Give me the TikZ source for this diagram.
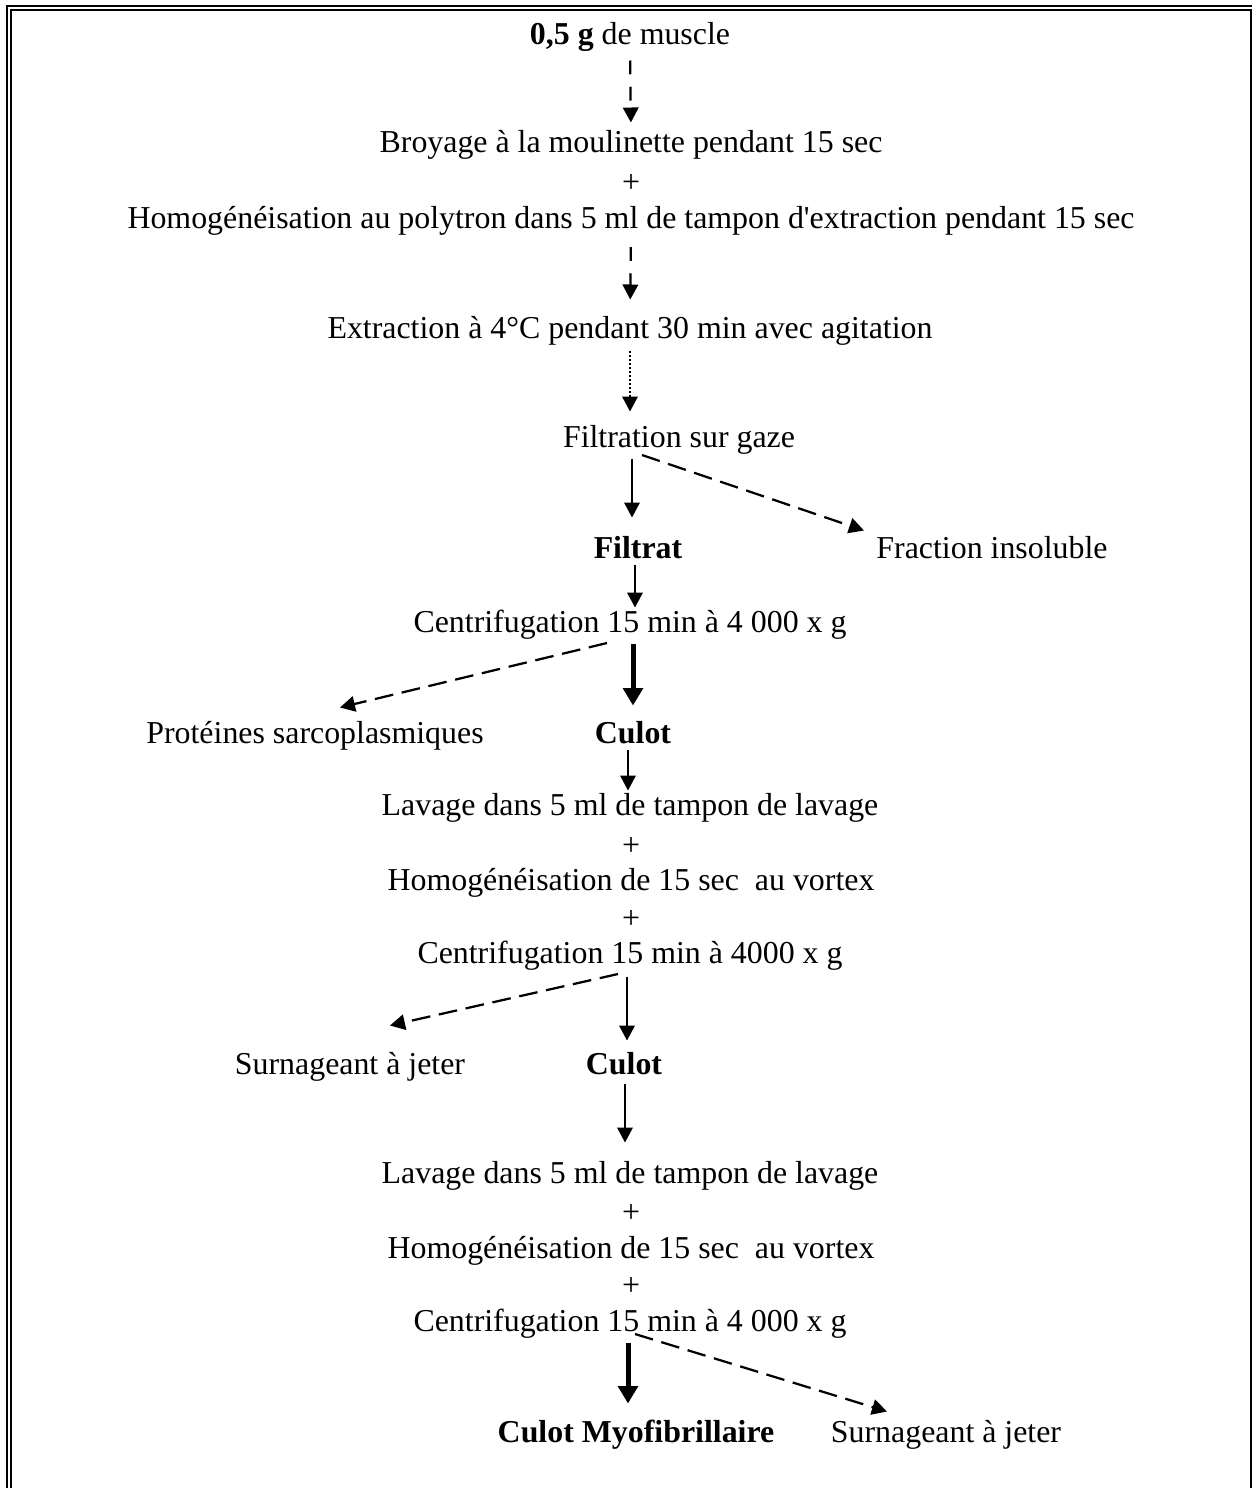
\documentclass[tikz,border=0pt]{standalone}
\usepackage{fontspec}
\setmainfont{Liberation Serif}[Ligatures=TeXOff]
\usetikzlibrary{arrows.meta}

\begin{document}
\begin{tikzpicture}[x=0.4pt, y=-0.4pt, >={Triangle[length=6pt, width=6.2pt]},
        stage/.style={inner sep=0pt, anchor=base, text height=8pt, text depth=2.4pt,
          font=\fontsize{12.75}{15}\selectfont},
        flow/.style={->, line width=0.8pt},
        heavy/.style={-{Triangle[length=7pt, width=7.8pt]}, line width=2pt},
        dashv/.style={->, line width=0.9pt, dash pattern=on 5.5pt off 5pt},
        skew/.style={->, line width=0.9pt, dash pattern=on 7.5pt off 3.5pt},
        dotv/.style={->, line width=0.8pt, dash pattern=on 0.8pt off 0.8pt}]
      \useasboundingbox (0,0) rectangle (1252,1488);
      \clip (0,0) rectangle (1252,1488);
      % cadre
      \draw[line width=0.8pt] (7,1500) -- (7,6) -- (1270,6);
      \draw[line width=0.8pt] (11,1500) -- (11,10) -- (1251,10) -- (1251,1500);
      % etapes
      \node[stage] (muscle) at (630,44) {\textbf{0,5 g} de muscle};
      \node[stage] (broyage) at (631,152) {Broyage à la moulinette pendant 15 sec};
      \node[stage] (plusA) at (631,192) {+};
      \node[stage] (homogA) at (631,228) {Homogénéisation au polytron dans 5 ml de tampon d'extraction pendant 15 sec};
      \node[stage] (extraction) at (630,338) {Extraction à 4°C pendant 30 min avec agitation};
      \node[stage] (filtration) at (679,447) {Filtration sur gaze};
      \node[stage] (filtrat) at (638,558) {\textbf{Filtrat}};
      \node[stage] (insoluble) at (992,558) {Fraction insoluble};
      \node[stage] (centrifA) at (630,632) {Centrifugation 15 min à 4 000 x g};
      \node[stage] (sarco) at (315,743) {Protéines sarcoplasmiques};
      \node[stage] (culotA) at (633,743) {\textbf{Culot}};
      \node[stage] (lavageA) at (630,815) {Lavage dans 5 ml de tampon de lavage};
      \node[stage] (plusB) at (631,855) {+};
      \node[stage] (homogB) at (631,890) {Homogénéisation de 15 sec\ \ au vortex};
      \node[stage] (plusC) at (631,928) {+};
      \node[stage] (centrifB) at (630,963) {Centrifugation 15 min à 4000 x g};
      \node[stage] (surnA) at (350,1074) {Surnageant à jeter};
      \node[stage] (culotB) at (624,1074) {\textbf{Culot}};
      \node[stage] (lavageB) at (630,1183) {Lavage dans 5 ml de tampon de lavage};
      \node[stage] (plusD) at (631,1222) {+};
      \node[stage] (homogC) at (631,1258) {Homogénéisation de 15 sec\ \ au vortex};
      \node[stage] (plusE) at (631,1295) {+};
      \node[stage] (centrifC) at (630,1331) {Centrifugation 15 min à 4 000 x g};
      \node[stage] (myofib) at (636,1442) {\textbf{Culot Myofibrillaire}};
      \node[stage] (surnB) at (946,1442) {Surnageant à jeter};
      % fleches
      \draw[dashv, shorten <=4pt, shorten >=3.6pt] (muscle.south) -- (broyage.north);
      \draw[dashv, shorten <=5pt, shorten >=7.2pt] (homogA.south) -- (extraction.north);
      \draw[dotv, shorten <=2.4pt, shorten >=6pt] (extraction.south) -- (extraction.south |- filtration.north);
      \draw[flow, shorten <=2pt, shorten >=8pt] ([xshift=-2.4pt]filtrat |- filtration.south) -- ([xshift=-2.4pt]filtrat.north);
      \draw[skew] ([xshift=-14.8pt, yshift=-3.2pt]filtration.base) -- ([xshift=-4.8pt, yshift=2.8pt]insoluble.north west);
      \draw[flow, shorten >=1.6pt] ([xshift=-1.2pt]filtrat.south) -- ([xshift=-1.2pt]filtrat.south |- centrifA.north);
      \draw[heavy, shorten <=2pt, shorten >=6.8pt] (culotA |- centrifA.south) -- (culotA.north);
      \draw[skew] ([xshift=-9.2pt, yshift=-4.4pt]centrifA.base) -- ([xshift=10pt, yshift=6pt]sarco.north);
      \draw[flow, shorten >=1.6pt] ([xshift=-2pt]culotA.south) -- ([xshift=-2pt]culotA.south |- lavageA.north);
      \draw[flow, shorten <=2.8pt, shorten >=5.2pt] ([xshift=1.2pt]culotB |- centrifB.south) -- ([xshift=1.2pt]culotB.north);
      \draw[skew] ([xshift=-4.8pt, yshift=-4.4pt]centrifB.base) -- ([xshift=16pt, yshift=11.2pt]surnA.north);
      \draw[flow, shorten <=1.2pt, shorten >=8pt] ([xshift=0.4pt]culotB.south) -- ([xshift=0.4pt]culotB.south |- lavageB.north);
      \draw[heavy, shorten <=2pt, shorten >=7.2pt] ([xshift=-0.8pt]centrifC.south) -- ([xshift=-0.8pt]centrifC.south |- myofib.north);
      \draw[skew] ([xshift=2pt, yshift=-1.2pt]centrifC.base) -- ([xshift=-23.6pt, yshift=4pt]surnB.north);
\end{tikzpicture}
\end{document}
